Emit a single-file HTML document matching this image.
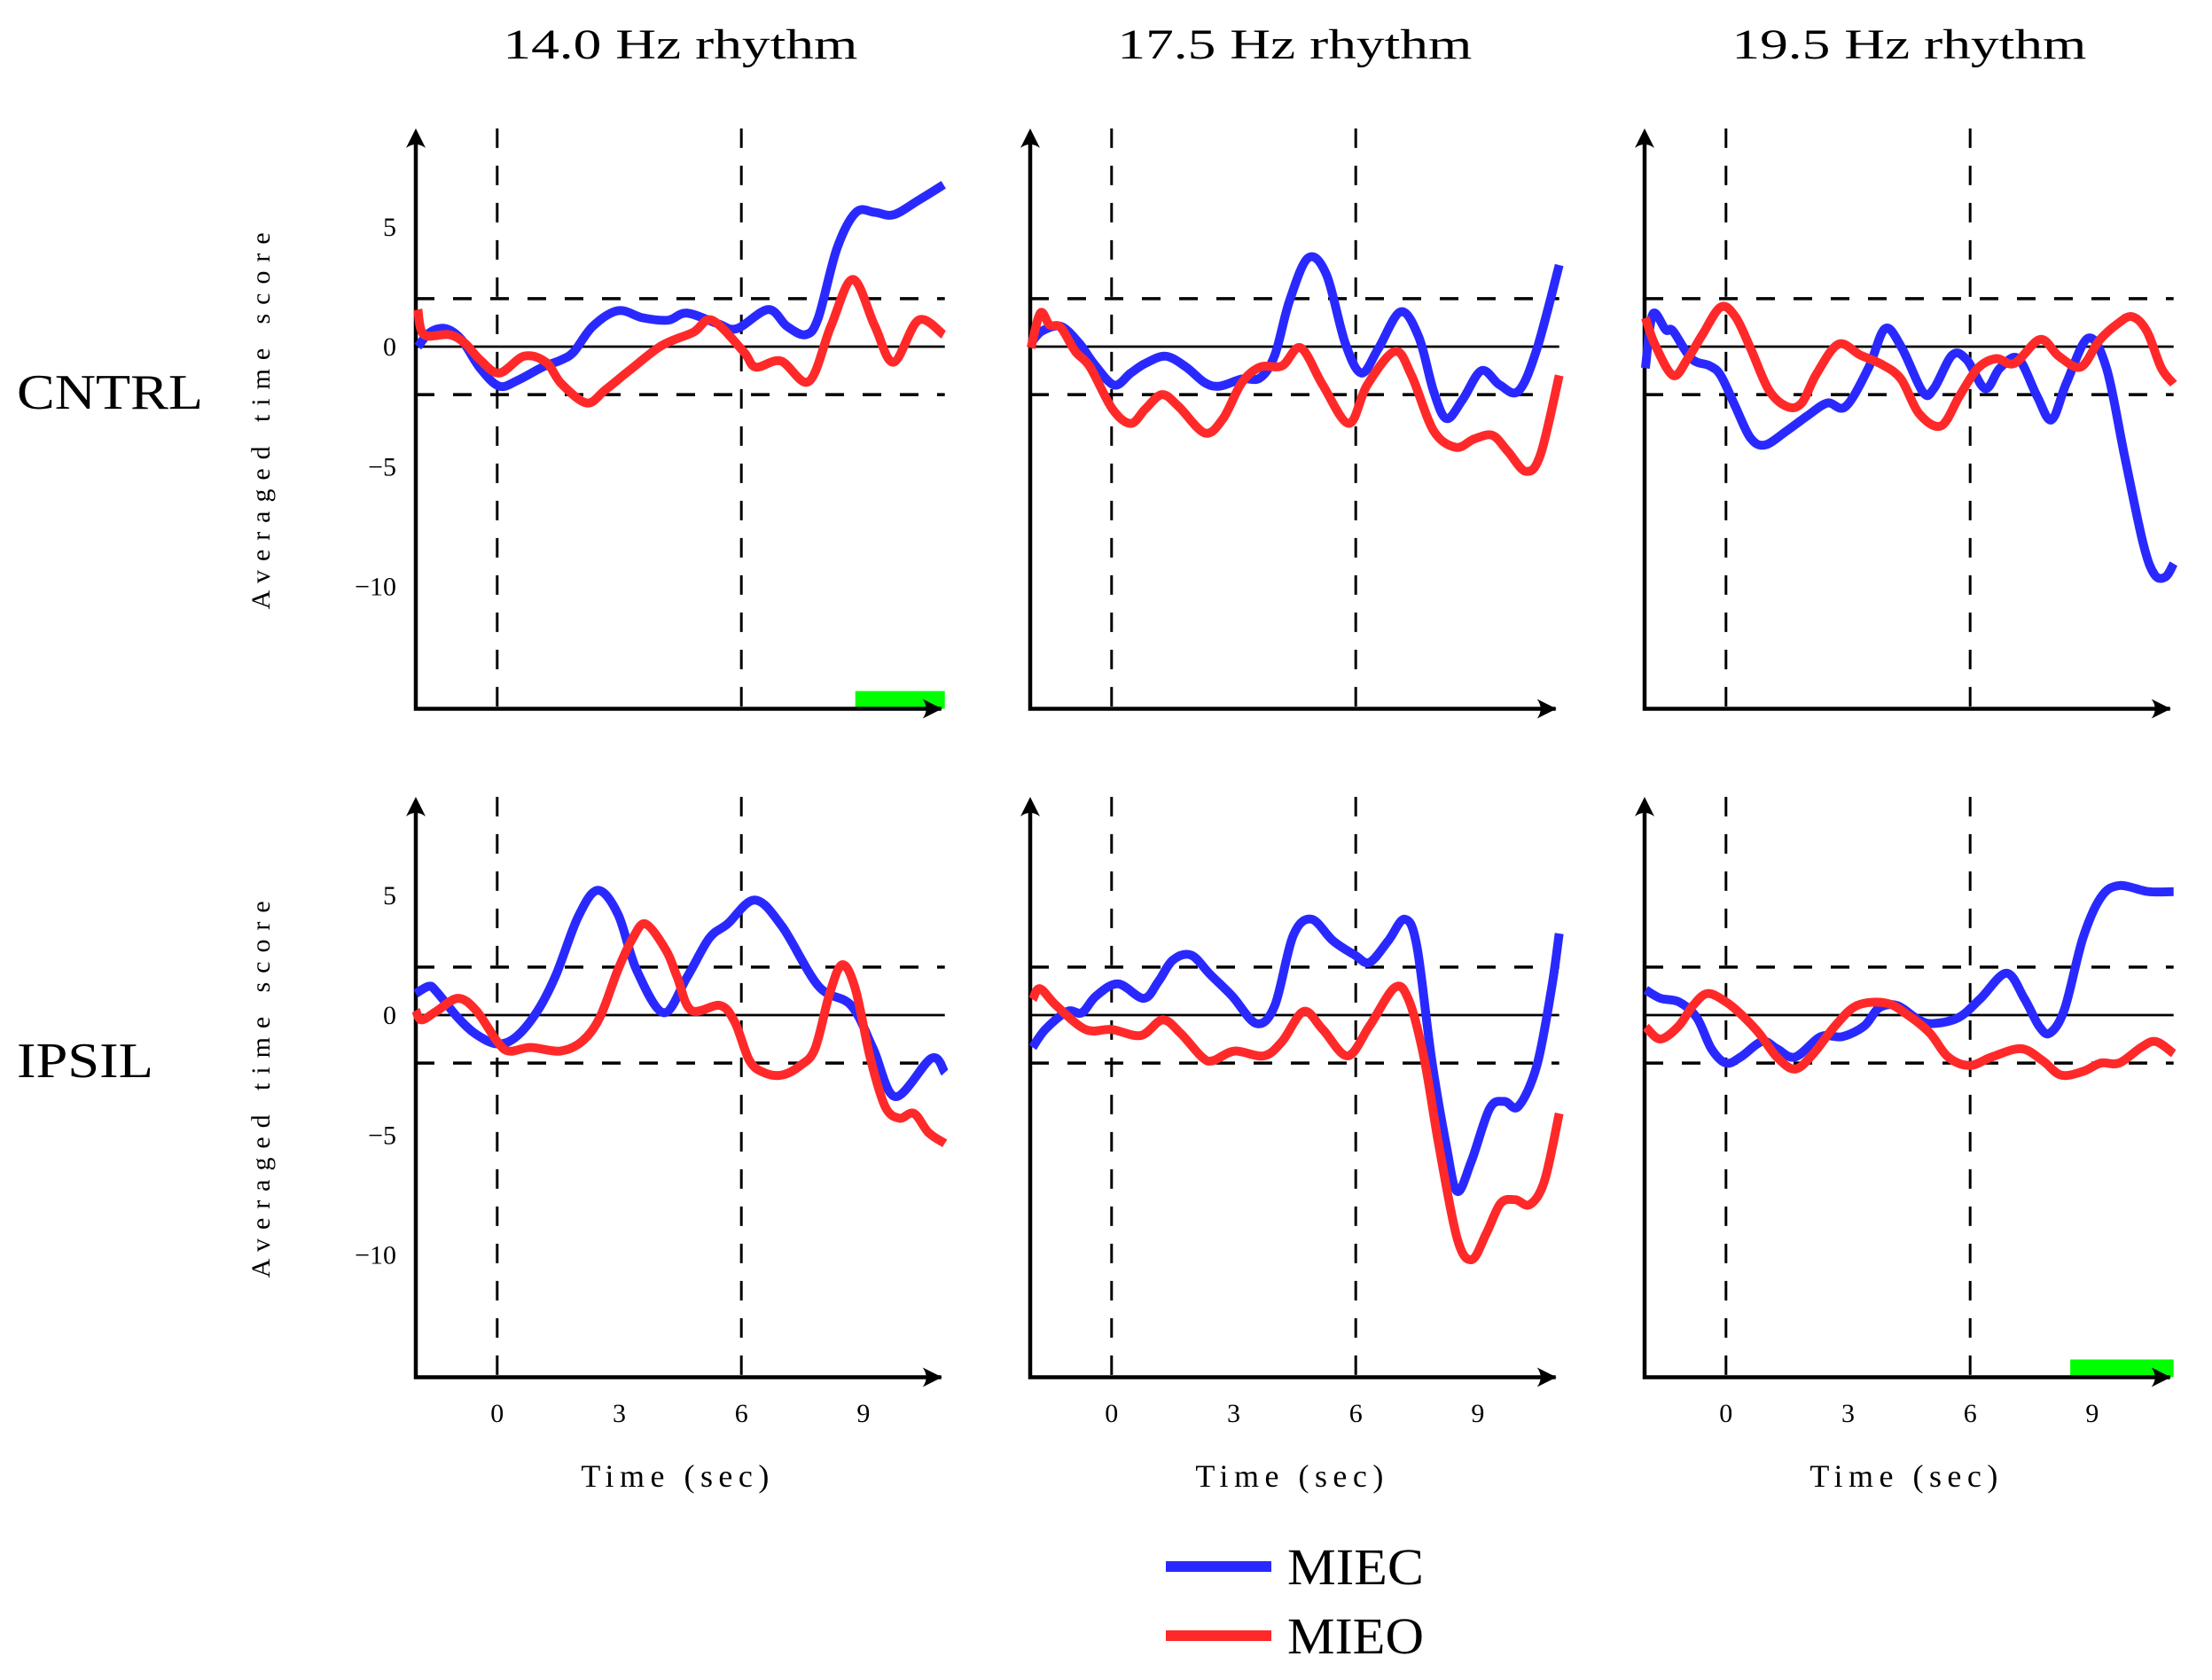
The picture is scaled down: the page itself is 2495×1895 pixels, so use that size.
<!DOCTYPE html>
<html><head><meta charset="utf-8"><style>
html,body{margin:0;padding:0;background:#fff;}
svg{display:block;}
text{font-family:"Liberation Serif",serif;fill:#000;}
</style></head><body>
<svg id="chart" width="2495" height="1895" viewBox="0 0 2495 1895" xmlns="http://www.w3.org/2000/svg"></svg>
<script>
// ---- data (times in sec, values = averaged time score) ----
const panelTitles = ["14.0 Hz rhythm", "17.5 Hz rhythm", "19.5 Hz rhythm"];
const rowLabels = ["CNTRL", "IPSIL"];
const rowLabelWidths = [210, 154];
const yTicks = [5, 0, -5, -10];
const xTicks = [0, 3, 6, 9];
const xTickLabels = ["0", "3", "6", "9"];

// Panel 1: 14.0 Hz CNTRL
const p1BlueT = [-1.95,-1.65,-1.26,-0.88,-0.42,0.05,0.51,1.12,1.58,1.89,2.35,2.97,3.58,4.2,4.66,5.43,5.89,6.66,7.12,7.58,7.89,8.35,8.82,9.28,9.74,10.35,10.97];
const p1BlueV = [0,0.6,0.75,0.3,-0.9,-1.65,-1.4,-0.85,-0.55,-0.2,0.85,1.5,1.2,1.1,1.4,0.95,0.75,1.55,0.85,0.5,1.2,4.1,5.6,5.6,5.5,6.1,6.75];
const p1RedT = [-1.95,-1.8,-1.18,-0.8,-0.42,0.05,0.66,1.2,1.58,2.2,2.66,3.28,4.05,4.82,5.28,6.05,6.35,6.97,7.66,8.2,8.74,9.28,9.74,10.35,10.97];
const p1RedV = [1.55,0.5,0.5,0.15,-0.55,-1.1,-0.4,-0.65,-1.55,-2.35,-1.8,-0.95,0.05,0.6,1.1,-0.2,-0.85,-0.6,-1.45,0.85,2.8,0.85,-0.65,1.1,0.5];
// Panel 2: 17.5 Hz CNTRL
const p2BlueT = [-1.98,-1.71,-1.25,-0.8,-0.44,0.06,0.47,0.83,1.33,1.83,2.29,2.65,3.2,3.65,4.01,4.37,4.83,5.28,5.74,6.14,6.55,7.1,7.55,7.91,8.23,8.63,9.09,9.54,10,10.45,11];
const p2BlueV = [0.15,0.65,0.85,0.15,-0.7,-1.6,-1.1,-0.7,-0.4,-0.85,-1.5,-1.65,-1.35,-1.3,-0.35,1.9,3.7,3.0,0.15,-1.1,-0.1,1.45,0.4,-1.85,-3.0,-2.2,-1.0,-1.6,-1.85,-0.1,3.4];
const p2RedT = [-1.98,-1.75,-1.52,-1.25,-0.89,-0.53,0.02,0.47,0.83,1.24,1.65,2.29,2.74,3.2,3.65,4.19,4.65,5.19,5.83,6.28,6.96,7.37,7.91,8.46,8.91,9.36,9.73,10.18,10.54,11];
const p2RedV = [-0.05,1.4,0.9,0.8,-0.2,-0.85,-2.6,-3.2,-2.6,-2.0,-2.5,-3.6,-3.0,-1.5,-0.85,-0.8,-0.05,-1.6,-3.2,-1.6,-0.2,-1.2,-3.5,-4.2,-3.85,-3.7,-4.35,-5.2,-4.5,-1.2];
// Panel 3: 19.5 Hz CNTRL
const p3BlueT = [-1.98,-1.8,-1.48,-1.3,-0.85,-0.4,-0.13,0.23,0.6,0.96,1.5,1.99,2.49,2.94,3.5,3.91,4.32,4.84,5.11,5.56,5.92,6.37,6.73,7.18,7.64,8.0,8.37,8.9,9.35,9.8,10.25,10.53,10.8,11.0];
const p3BlueV = [-0.9,1.35,0.7,0.65,-0.5,-0.8,-1.2,-2.5,-3.8,-4.1,-3.5,-2.9,-2.35,-2.5,-0.9,0.75,-0.05,-1.9,-1.75,-0.35,-0.55,-1.75,-0.9,-0.5,-2.05,-3.05,-1.5,0.35,-0.9,-4.6,-8.2,-9.5,-9.6,-9.05];
const p3RedT = [-1.98,-1.75,-1.3,-0.94,-0.58,-0.13,0.23,0.6,1.05,1.5,1.86,2.22,2.76,3.3,3.84,4.3,4.75,5.29,5.74,6.19,6.64,7.09,7.72,8.18,8.72,9.17,9.62,9.98,10.34,10.7,11.0];
const p3RedV = [1.2,0.1,-1.2,-0.5,0.5,1.65,1.25,-0.05,-1.8,-2.5,-2.35,-1.15,0.1,-0.35,-0.75,-1.35,-2.8,-3.3,-2.05,-0.9,-0.5,-0.7,0.3,-0.4,-0.85,0.25,0.95,1.25,0.65,-0.9,-1.55];
// Panel 4: 14.0 Hz IPSIL
const p4BlueT = [-2,-1.68,-1.5,-0.97,-0.52,0,0.47,1.0,1.45,1.99,2.47,2.97,3.42,4.09,4.67,5.21,5.66,6.33,7.0,7.9,8.7,9.24,9.78,10.67,11.0];
const p4BlueV = [0.9,1.2,1.0,-0.1,-0.8,-1.2,-0.9,0.2,1.7,4.1,5.2,4.2,1.9,0.1,1.6,3.2,3.8,4.8,3.7,1.2,0.4,-1.4,-3.4,-1.8,-2.4];
const p4RedT = [-2,-1.86,-1.5,-0.97,-0.52,0,0.29,0.82,1.54,2.08,2.52,2.97,3.33,3.65,4.15,4.42,4.77,5.48,5.84,6.2,6.56,7.0,7.45,7.81,8.17,8.48,8.8,9.17,9.53,9.88,10.24,10.6,11.0];
const p4RedV = [0.2,-0.2,0.15,0.7,0.2,-1.1,-1.5,-1.35,-1.5,-1.1,-0.1,1.9,3.2,3.8,2.7,1.6,0.2,0.4,-0.3,-1.9,-2.4,-2.5,-2.1,-1.4,0.9,2.1,1.1,-1.8,-3.8,-4.3,-4.1,-4.9,-5.35];
// Panel 5: 17.5 Hz IPSIL
const p5BlueT = [-1.94,-1.63,-1.09,-0.73,-0.38,0.16,0.79,1.15,1.51,1.96,2.42,2.96,3.56,4.01,4.46,4.91,5.44,5.98,6.34,6.8,7.2,7.5,7.86,8.22,8.49,8.84,9.29,9.65,10.0,10.45,10.81,11.0];
const p5BlueV = [-1.35,-0.6,0.15,0.1,0.8,1.3,0.7,1.4,2.3,2.5,1.7,0.8,-0.35,0.4,3.3,4.0,3.1,2.5,2.2,3.1,4.0,2.9,-1.8,-5.4,-7.35,-6.1,-3.9,-3.6,-3.8,-2.1,1.1,3.4];
const p5RedT = [-1.94,-1.76,-1.36,-0.64,0,0.72,1.25,1.69,2.22,2.49,3.02,3.74,4.19,4.72,5.19,5.8,6.34,6.96,7.31,7.68,8.04,8.49,8.85,9.21,9.56,9.92,10.28,10.64,11.0];
const p5RedV = [0.65,1.1,0.4,-0.6,-0.6,-0.85,-0.2,-0.75,-1.75,-1.9,-1.5,-1.7,-1.1,0.15,-0.6,-1.7,-0.45,1.15,0.6,-1.8,-5.4,-9.3,-10.2,-9.1,-7.85,-7.7,-7.9,-6.9,-4.1];
// Panel 6: 19.5 Hz IPSIL
const p6BlueT = [-1.97,-1.61,-1.16,-0.72,-0.36,0,0.36,0.89,1.25,1.7,2.33,2.86,3.4,3.76,4.2,4.74,5.1,5.72,6.26,6.89,7.33,7.69,7.96,8.32,8.77,9.21,9.66,10.38,11.0];
const p6BlueV = [1.05,0.7,0.55,-0.1,-1.4,-2.0,-1.75,-1.1,-1.4,-1.75,-0.9,-0.9,-0.45,0.3,0.4,-0.2,-0.35,-0.1,0.7,1.75,0.7,-0.45,-0.75,0.25,3.2,4.9,5.4,5.15,5.15];
const p6RedT = [-1.97,-1.61,-1.16,-0.81,-0.45,0,0.36,0.81,1.25,1.7,2.15,2.68,3.22,3.94,4.47,5.01,5.46,5.99,6.53,7.25,7.78,8.23,8.77,9.21,9.66,10.2,10.56,11.0];
const p6RedV = [-0.5,-1.0,-0.45,0.4,0.9,0.55,0.05,-0.75,-1.75,-2.25,-1.6,-0.45,0.4,0.5,0,-0.75,-1.75,-2.1,-1.75,-1.4,-1.9,-2.5,-2.35,-2.0,-2.0,-1.35,-1.1,-1.6];

const blueTimes = [p1BlueT, p2BlueT, p3BlueT, p4BlueT, p5BlueT, p6BlueT];
const blueVals = [p1BlueV, p2BlueV, p3BlueV, p4BlueV, p5BlueV, p6BlueV];
const redTimes = [p1RedT, p2RedT, p3RedT, p4RedT, p5RedT, p6RedT];
const redVals = [p1RedV, p2RedV, p3RedV, p4RedV, p5RedV, p6RedV];
// significance bars: panel index, start sec, end sec
const sigPanels = [0, 5];
const sigStart = [8.8, 8.46];
const sigEnd = [11, 11];
const vLines = [0, 6];
const hLines = [2, -2];
const legendNames = ["MIEC", "MIEO"];
const legendColors = ["#2929ff", "#ff2929"];

// ---- layout ----
const NS = "http://www.w3.org/2000/svg";
const svg = document.getElementById("chart");
const X0 = 469, PXS = 45.9, T0 = -2, COLDX = 693;
const Y0 = 391, PYU = 27.05, ROWDY = 754;
function el(tag, attrs, parent) {
  const e = document.createElementNS(NS, tag);
  for (const k in attrs) e.setAttribute(k, attrs[k]);
  (parent || svg).appendChild(e);
  return e;
}
function xs(c, t) { return X0 + c * COLDX + (t - T0) * PXS; }
function ys(r, v) { return Y0 + r * ROWDY - v * PYU; }
function smoothPath(pts) {
  let d = "M" + pts[0][0].toFixed(1) + "," + pts[0][1].toFixed(1);
  for (let i = 0; i < pts.length - 1; i++) {
    const p0 = pts[Math.max(0, i - 1)], p1 = pts[i], p2 = pts[i + 1], p3 = pts[Math.min(pts.length - 1, i + 2)];
    const c1x = p1[0] + (p2[0] - p0[0]) / 6, c1y = p1[1] + (p2[1] - p0[1]) / 6;
    const c2x = p2[0] - (p3[0] - p1[0]) / 6, c2y = p2[1] - (p3[1] - p1[1]) / 6;
    d += " C" + c1x.toFixed(1) + "," + c1y.toFixed(1) + " " + c2x.toFixed(1) + "," + c2y.toFixed(1) + " " + p2[0].toFixed(1) + "," + p2[1].toFixed(1);
  }
  return d;
}

panelTitles.forEach((t, c) => {
  const tx = el("text", {x: (xs(c, -2) + xs(c, 11)) / 2, y: 66, "font-size": 48, "text-anchor": "middle", textLength: 400, lengthAdjust: "spacingAndGlyphs"});
  
  
  tx.textContent = t;
});
rowLabels.forEach((t, r) => {
  const tx = el("text", {x: 19, y: ys(r, 0) + 70, "font-size": 56, textLength: rowLabelWidths[r], lengthAdjust: "spacingAndGlyphs"});
  
  
  tx.textContent = t;
});

for (let r = 0; r < 2; r++) {
  for (let c = 0; c < 3; c++) {
    const idx = r * 3 + c;
    const g = el("g", {});
    
    
    const xa = xs(c, -2), xb = xs(c, 11);
    const yAxis = ys(r, -15.1), yTop = ys(r, 9.1);
    sigPanels.forEach((p, k) => {
      if (p === idx) {
        const b = el("rect", {x: xs(c, sigStart[k]), y: yAxis - 20, width: xs(c, sigEnd[k]) - xs(c, sigStart[k]), height: 20, fill: "#00ff00"}, g);
        
        
      }
    });
    vLines.forEach(t => {
      const l = el("line", {x1: xs(c, t), x2: xs(c, t), y1: yTop, y2: yAxis, stroke: "#000", "stroke-width": 3, "stroke-dasharray": "22 20"}, g);
      
      
    });
    hLines.forEach(v => {
      const l = el("line", {x1: xa, x2: xb, y1: ys(r, v), y2: ys(r, v), stroke: "#000", "stroke-width": 3.5, "stroke-dasharray": "21 21"}, g);
      
      
    });
    const z = el("line", {x1: xa, x2: xb, y1: ys(r, 0), y2: ys(r, 0), stroke: "#000", "stroke-width": 2.8}, g);
    
    
    const ax = el("path", {d: `M${xa},${yTop + 8} L${xa},${yAxis} L${xb - 4},${yAxis}`, stroke: "#000", "stroke-width": 4.5, fill: "none"}, g);
    
    
    const ah1 = el("path", {d: `M${xa},${yTop} L${xa - 11},${yTop + 22} Q${xa},${yTop + 14} ${xa + 11},${yTop + 22} Z`, fill: "#000"}, g);
    
    
    const tipx = xb - 3;
    const ah2 = el("path", {d: `M${tipx},${yAxis} L${tipx - 22},${yAxis - 11} Q${tipx - 14},${yAxis} ${tipx - 22},${yAxis + 11} Z`, fill: "#000"}, g);
    
    
    [[blueTimes, blueVals, legendColors[0], 'miec-line'], [redTimes, redVals, legendColors[1], 'mieo-line']].forEach(s => {
      const pts = s[0][idx].map((t, i) => [xs(c, t), ys(r, s[1][idx][i])]);
      const p = el("path", {d: smoothPath(pts), stroke: s[2], "stroke-width": 10, fill: "none", "stroke-linejoin": "round"}, g);
      
      
    });
    if (c === 0) {
      yTicks.forEach((v) => {
        const tx = el("text", {x: 447, y: ys(r, v) + 10, "font-size": 30, "text-anchor": "end"}, g);
        
        
        tx.textContent = v < 0 ? "\u2212" + Math.abs(v) : String(v);
      });
      const yl = el("text", {x: 0, y: 0, "font-size": 30, "text-anchor": "middle", textLength: 425, transform: `translate(304,${ys(r, -3.1)}) rotate(-90)`}, g);
      
      
      yl.textContent = "Averaged time score";
    }
    if (r === 1) {
      xTicks.forEach((t, i) => {
        const tx = el("text", {x: xs(c, t), y: 1604, "font-size": 30, "text-anchor": "middle"}, g);
        
        
        tx.textContent = xTickLabels[i];
      });
      const xl = el("text", {x: (xa + xb) / 2 - 6, y: 1677, "font-size": 36, "text-anchor": "middle", textLength: 212}, g);
      
      
      xl.textContent = "Time (sec)";
    }
  }
}
const lg = el("g", {});


legendNames.forEach((n, i) => {
  const y = 1767 + i * 78;
  const l = el("line", {x1: 1315, x2: 1434, y1: y, y2: y, stroke: legendColors[i], "stroke-width": 12}, lg);
  
  
  const t = el("text", {x: 1452, y: y + 20, "font-size": 58, textLength: 154, lengthAdjust: "spacingAndGlyphs"}, lg);
  
  
  t.textContent = n;
});
</script>
</body></html>
